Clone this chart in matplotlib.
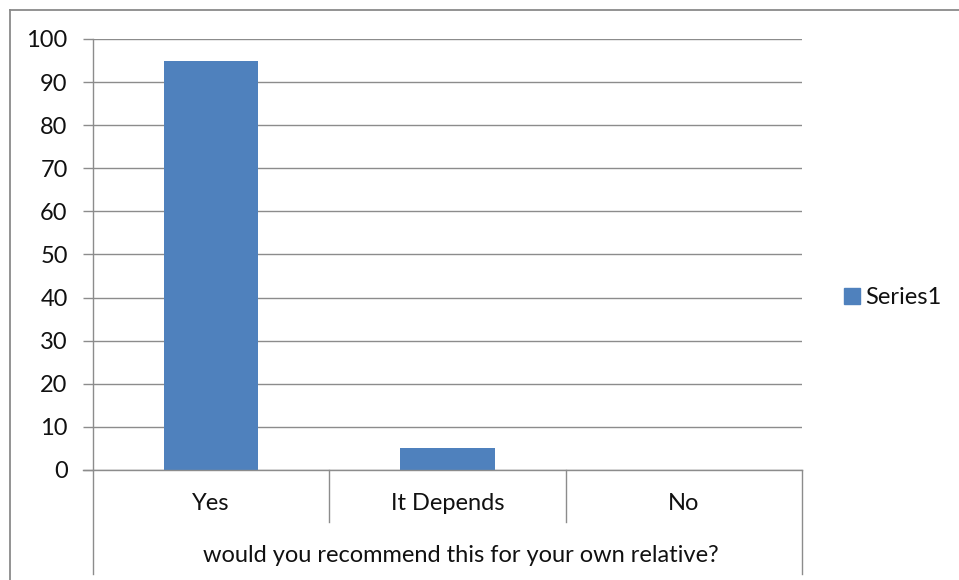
import matplotlib
matplotlib.use("Agg")
import matplotlib.pyplot as plt
from matplotlib.lines import Line2D
from matplotlib.patches import Patch
import matplotlib.transforms as mtransforms

categories = ["Yes", "It Depends", "No"]
values = [95, 5, 0]
series_name = "Series1"
axis_title = "would you recommend this for your own relative?"
yticks = list(range(0, 101, 10))

W, H = 959, 580
plt.rcParams['font.family'] = ['Lato', 'DejaVu Sans']
fig = plt.figure(figsize=(W / 100, H / 100), dpi=100)
fig.patch.set_facecolor("white")

def fx(px):
    return px / W

def fy(py):
    return 1 - py / H

FS = 17
left, right, top, bottom = 93, 802, 39, 470
ax = fig.add_axes([fx(left), fy(bottom), fx(right) - fx(left), fy(top) - fy(bottom)])
grid_c = "#8c8c8c"
bar_c = "#4F81BD"
txt_c = "#111111"

x = list(range(len(categories)))
ax.bar(x, values, width=0.4, color=bar_c, zorder=3)
ax.set_xlim(-0.5, len(categories) - 0.5)
ax.set_ylim(0, 100)
ax.set_yticks(yticks)
ax.yaxis.grid(True, color=grid_c, linewidth=1)
ax.set_axisbelow(True)
ax.tick_params(axis="y", length=7.2, width=1, color=grid_c, labelsize=FS, labelcolor=txt_c, pad=11)
ax.set_xticks([])
for s in ["top", "right", "bottom"]:
    ax.spines[s].set_visible(False)
ax.spines["left"].set_color(grid_c)
ax.spines["left"].set_linewidth(1)

# Category box lines below axis
trans = mtransforms.blended_transform_factory(ax.transData, fig.transFigure)
fig.add_artist(Line2D([fx(83), fx(right)], [fy(bottom), fy(bottom)], color=grid_c, lw=1))
for i in range(len(categories) + 1):
    xv = i - 0.5
    end = 574 if i in (0, len(categories)) else 522
    ax.plot([xv, xv], [fy(bottom), fy(end)], transform=trans, color=grid_c, lw=1, clip_on=False)

for i, c in enumerate(categories):
    ax.text(i, fy(503), c, transform=trans, ha="center", va="center", fontsize=FS, color=txt_c)
fig.text(fx(461), fy(555), axis_title, ha="center", va="center", fontsize=FS, color=txt_c)

# Legend
fig.legend(handles=[Patch(facecolor=bar_c, edgecolor=bar_c, label=series_name)],
           loc="center left", bbox_to_anchor=(fx(823), fy(298)), frameon=False,
           handlelength=0.65, handleheight=0.65, handletextpad=0.25, fontsize=FS,
           labelcolor=txt_c)

# Outer chart border
border_c = "#8a8a8a"
fig.add_artist(Line2D([fx(9.5), 1.0], [fy(9.5), fy(9.5)], color=border_c, lw=1.3))
fig.add_artist(Line2D([fx(9.5), fx(9.5)], [fy(9.5), 0.0], color=border_c, lw=1.3))

fig.savefig("out.png", dpi=100, facecolor="white")
